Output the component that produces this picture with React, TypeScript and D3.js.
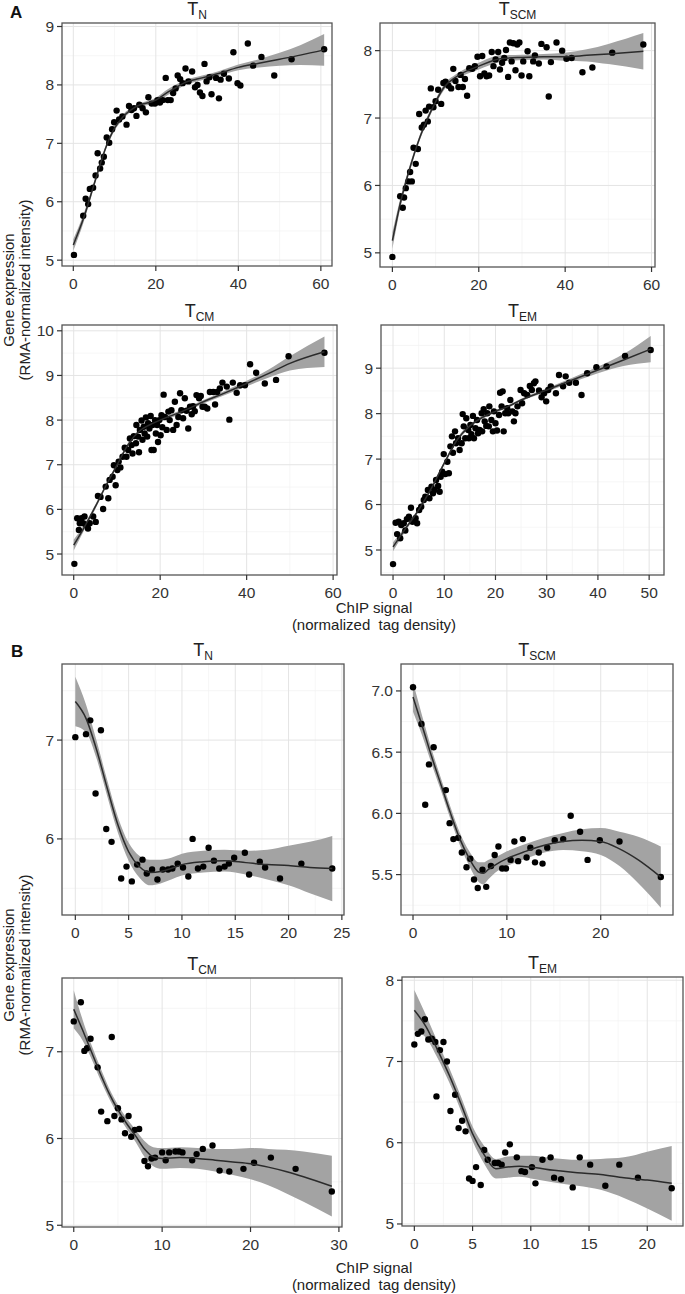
import React from "react";
import * as d3 from "d3";

type Pt = [number, number];
type Sm = [number, number, number]; // x, fit, half-width of band

// ---------- Panel A : T_N ----------
const aTnPoints: Pt[] = [
  [0.16, 5.09], [2.4, 5.76], [3.0, 6.05], [3.6, 5.96], [4.0, 6.22], [4.8, 6.24], [5.4, 6.45], [5.9, 6.83],
  [6.5, 6.57], [6.9, 6.67], [7.4, 6.77], [8.1, 7.1], [8.7, 7.01], [9.4, 7.24], [9.9, 7.36], [10.5, 7.56],
  [11.1, 7.41], [11.9, 7.46], [12.9, 7.32], [13.5, 7.64], [14.1, 7.57], [14.7, 7.6], [15.3, 7.47], [16.0, 7.66],
  [16.8, 7.6], [17.6, 7.53], [18.2, 7.79], [19.0, 7.68], [19.8, 7.68], [20.4, 7.74], [21.0, 7.7], [21.7, 7.74],
  [22.4, 8.12], [22.9, 7.74], [23.6, 7.74], [24.2, 7.86], [24.8, 7.94], [25.3, 8.16], [25.9, 8.1], [26.5, 8.03],
  [27.2, 8.28], [27.9, 8.06], [28.8, 8.23], [29.5, 7.96], [30.1, 8.0], [30.7, 7.87], [31.3, 7.81], [31.8, 8.36],
  [32.3, 8.06], [33.0, 8.13], [33.5, 7.84], [34.6, 8.12], [35.3, 7.77], [35.7, 8.09], [36.5, 8.19], [37.7, 8.11],
  [38.8, 8.56], [39.8, 8.03], [40.5, 7.99], [42.3, 8.71], [43.6, 8.33], [45.6, 8.48], [48.7, 8.16], [52.9, 8.44],
  [60.8, 8.61],
];
const aTnSmooth: Sm[] = [
  [0, 5.26, 0.1], [2.5, 5.72, 0.07], [5, 6.29, 0.05], [8, 6.95, 0.04], [10, 7.26, 0.04], [12, 7.45, 0.04],
  [15, 7.62, 0.03], [20, 7.74, 0.04], [23, 7.88, 0.05], [25, 7.96, 0.05], [27, 8.04, 0.04], [30, 8.1, 0.04],
  [35, 8.19, 0.04], [40, 8.3, 0.05], [45, 8.37, 0.07], [50, 8.44, 0.11], [55, 8.51, 0.17], [60.8, 8.6, 0.27],
];

// ---------- Panel A : T_SCM ----------
const aTscmPoints: Pt[] = [
  [0, 4.94], [1.8, 5.84], [2.4, 5.67], [2.7, 5.82], [3.1, 5.96], [3.7, 6.06], [4.1, 6.2], [4.5, 6.06],
  [4.9, 6.56], [5.4, 6.32], [5.9, 6.54], [6.2, 7.06], [6.8, 6.86], [7.3, 6.9], [7.7, 7.11], [8.2, 6.95],
  [8.5, 7.17], [8.9, 7.44], [9.5, 7.16], [10.0, 7.25], [10.6, 7.42], [11.3, 7.21], [11.8, 7.52], [12.3, 7.54],
  [13.0, 7.48], [13.6, 7.44], [14.1, 7.73], [14.6, 7.55], [15.3, 7.46], [15.8, 7.64], [16.3, 7.46], [16.8, 7.58],
  [17.3, 7.33], [17.8, 7.74], [18.5, 7.73], [19.1, 7.77], [19.7, 7.91], [20.3, 7.62], [20.8, 7.92], [21.3, 7.66],
  [21.8, 7.62], [22.4, 7.63], [23.0, 7.98], [23.4, 7.77], [23.9, 7.87], [24.5, 7.98], [24.9, 7.72], [25.4, 7.82],
  [25.9, 7.89], [26.3, 8.01], [26.8, 7.61], [27.2, 8.12], [27.6, 7.84], [28.0, 8.11], [28.5, 7.71], [28.9, 8.09],
  [29.4, 8.12], [29.9, 7.63], [30.3, 7.84], [31.3, 7.99], [31.7, 7.62], [32.6, 7.84], [33.0, 7.93], [33.9, 7.81],
  [34.5, 8.1], [35.7, 8.05], [36.2, 7.32], [36.7, 7.83], [38.0, 8.12], [39.3, 8.0], [40.3, 7.88], [41.5, 7.89],
  [44.0, 7.68], [46.3, 7.75], [50.9, 7.97], [58.1, 8.09],
];
const aTscmSmooth: Sm[] = [
  [0, 5.18, 0.12], [2, 5.78, 0.07], [4, 6.25, 0.05], [6, 6.65, 0.04], [8, 6.97, 0.04], [10, 7.24, 0.04],
  [12, 7.46, 0.04], [15, 7.62, 0.04], [20, 7.77, 0.05], [25, 7.88, 0.05], [30, 7.9, 0.04], [35, 7.91, 0.04],
  [40, 7.91, 0.06], [45, 7.93, 0.09], [50, 7.95, 0.15], [58.1, 7.99, 0.27],
];

// ---------- Panel A : T_CM ----------
const aTcmPoints: Pt[] = [
  [0.15, 4.78], [0.8, 5.8], [1.2, 5.54], [1.4, 5.69], [1.8, 5.8], [2.2, 5.69], [2.5, 5.84], [2.9, 5.65],
  [3.3, 5.57], [3.7, 5.69], [4.5, 5.84], [5.1, 5.72], [5.6, 6.3], [6.2, 6.28], [6.8, 6.01], [7.4, 6.51],
  [8.0, 6.25], [8.3, 6.66], [9.0, 6.73], [9.3, 6.99], [9.7, 6.54], [10.1, 6.88], [10.4, 7.07], [10.8, 6.94],
  [11.3, 7.18], [11.8, 7.38], [12.2, 7.18], [12.6, 7.33], [13.0, 7.59], [13.4, 7.44], [13.6, 7.25], [13.9, 7.64],
  [14.4, 7.48], [14.5, 7.89], [14.9, 7.63], [15.1, 7.28], [15.3, 7.78], [15.7, 7.99], [15.9, 7.56], [16.2, 7.85],
  [16.4, 7.7], [16.7, 8.06], [17.0, 7.63], [17.2, 7.93], [17.5, 7.81], [17.8, 8.09], [18.0, 7.33], [18.2, 7.89],
  [18.5, 7.33], [18.8, 8.0], [19.0, 7.7], [19.3, 7.89], [19.5, 7.51], [19.8, 8.0], [20.1, 7.66], [20.3, 8.11],
  [20.5, 7.84], [20.8, 8.57], [21.1, 8.07], [21.5, 7.78], [21.9, 8.19], [22.2, 8.0], [22.6, 8.22], [23.0, 7.78],
  [23.4, 8.41], [23.8, 7.89], [24.2, 8.07], [24.6, 8.6], [24.9, 8.22], [25.3, 8.04], [25.7, 8.49], [26.1, 8.21],
  [26.5, 7.81], [26.9, 8.3], [27.3, 8.13], [27.6, 8.31], [28.0, 8.2], [28.4, 8.56], [29.0, 8.49], [29.4, 8.54],
  [29.8, 8.3], [30.3, 8.3], [30.9, 8.26], [31.5, 8.63], [32.3, 8.63], [32.7, 8.35], [33.2, 8.63], [33.8, 8.71],
  [34.4, 8.84], [35.4, 8.75], [36.0, 8.01], [36.8, 8.84], [37.7, 8.61], [38.5, 8.78], [39.6, 8.78], [40.8, 9.25],
  [42.2, 9.06], [44.2, 8.82], [46.8, 8.9], [49.7, 9.43], [58.0, 9.51],
];
const aTcmSmooth: Sm[] = [
  [0, 5.2, 0.12], [2.5, 5.61, 0.06], [5, 6.06, 0.05], [7.5, 6.54, 0.04], [10, 6.99, 0.04], [12.5, 7.44, 0.04],
  [15, 7.74, 0.04], [17.5, 7.89, 0.04], [20, 8.0, 0.04], [25, 8.19, 0.04], [30, 8.41, 0.04], [35, 8.61, 0.05],
  [40, 8.82, 0.06], [45, 9.04, 0.09], [50, 9.27, 0.16], [58, 9.53, 0.34],
];

// ---------- Panel A : T_EM ----------
const aTemPoints: Pt[] = [
  [0, 4.69], [0.5, 5.6], [0.8, 5.35], [1.1, 5.62], [1.4, 5.26], [1.6, 5.55], [2.1, 5.59], [2.4, 5.43],
  [2.7, 5.68], [3.1, 5.73], [3.5, 5.93], [3.8, 5.62], [4.4, 5.7], [4.7, 5.59], [5.1, 5.88], [5.5, 5.95],
  [6.0, 6.1], [6.3, 6.17], [6.8, 6.32], [7.1, 6.14], [7.5, 6.39], [7.8, 6.25], [8.1, 6.32], [8.4, 6.54],
  [8.8, 6.41], [9.1, 6.28], [9.3, 6.61], [9.6, 6.72], [9.9, 7.11], [10.2, 6.67], [10.6, 6.94], [10.9, 6.69],
  [11.2, 7.28], [11.5, 7.5], [11.7, 7.14], [12.1, 7.61], [12.3, 7.35], [12.7, 7.46], [13.0, 7.2], [13.4, 7.35],
  [13.6, 7.99], [13.8, 7.72], [14.1, 7.46], [14.3, 7.9], [14.7, 7.64], [14.8, 7.46], [15.1, 7.75], [15.3, 7.55],
  [15.6, 7.95], [15.8, 7.46], [16.1, 7.68], [16.4, 7.86], [16.6, 7.57], [16.9, 7.64], [17.3, 8.01], [17.4, 7.61],
  [17.7, 8.1], [17.9, 7.83], [18.2, 7.73], [18.4, 8.01], [18.7, 7.72], [18.8, 8.16], [19.2, 7.86], [19.5, 7.61],
  [19.7, 8.05], [20.0, 7.79], [20.3, 7.63], [20.7, 7.97], [20.9, 8.46], [21.2, 8.16], [21.4, 8.49], [21.6, 7.61],
  [21.9, 8.01], [22.3, 8.12], [22.5, 8.01], [22.9, 8.3], [23.3, 8.05], [23.6, 7.83], [23.9, 8.01], [24.3, 8.16],
  [24.9, 8.52], [25.2, 8.23], [25.6, 8.45], [26.2, 8.41], [26.7, 8.61], [27.1, 8.52], [27.5, 8.67], [27.8, 8.71],
  [28.5, 8.51], [29.0, 8.36], [29.5, 8.45], [29.9, 8.27], [30.3, 8.52], [30.8, 8.6], [31.8, 8.45], [32.4, 8.85],
  [33.2, 8.6], [33.7, 8.82], [34.4, 8.68], [35.7, 8.68], [36.8, 8.41], [37.9, 8.89], [39.7, 9.02], [41.7, 9.04],
  [45.3, 9.27], [50.3, 9.4],
];
const aTemSmooth: Sm[] = [
  [0, 5.07, 0.1], [2.5, 5.48, 0.05], [5, 5.88, 0.04], [7.5, 6.36, 0.04], [10, 6.91, 0.04], [12.5, 7.42, 0.04],
  [15, 7.73, 0.04], [17.5, 7.92, 0.03], [20, 8.05, 0.03], [22.5, 8.16, 0.03], [25, 8.3, 0.03], [30, 8.52, 0.04],
  [35, 8.74, 0.05], [40, 8.96, 0.07], [45, 9.18, 0.13], [50.3, 9.42, 0.29],
];

// ---------- Panel B : T_N ----------
const bTnPoints: Pt[] = [
  [0, 7.03], [1.0, 7.06], [1.4, 7.2], [2.4, 7.1], [1.9, 6.46], [2.9, 6.1], [3.4, 5.97], [4.3, 5.6],
  [4.8, 5.72], [5.3, 5.57], [5.8, 5.74], [6.3, 5.79], [6.7, 5.65], [7.2, 5.69], [7.7, 5.59], [8.2, 5.69],
  [8.7, 5.69], [9.1, 5.7], [9.6, 5.75], [10.1, 5.71], [10.6, 5.62], [11.0, 6.0], [11.5, 5.7], [12.0, 5.72],
  [12.5, 5.91], [13.0, 5.78], [13.5, 5.7], [14.0, 5.72], [14.4, 5.75], [14.9, 5.81], [15.9, 5.86], [16.3, 5.64],
  [17.3, 5.77], [17.8, 5.71], [19.2, 5.6], [21.2, 5.75], [24.1, 5.7],
];
const bTnSmooth: Sm[] = [
  [0, 7.39, 0.25], [1, 7.22, 0.14], [2, 6.9, 0.09], [3, 6.51, 0.08], [4, 6.14, 0.08], [5, 5.87, 0.09],
  [6, 5.72, 0.11], [7, 5.66, 0.13], [8, 5.67, 0.12], [9, 5.7, 0.11], [10, 5.74, 0.11], [12, 5.77, 0.11],
  [14, 5.78, 0.11], [16, 5.76, 0.12], [18, 5.74, 0.15], [20, 5.73, 0.2], [22, 5.71, 0.26], [24.1, 5.7, 0.33],
];

// ---------- Panel B : T_SCM ----------
const bTscmPoints: Pt[] = [
  [0, 7.03], [0.9, 6.73], [1.3, 6.07], [1.7, 6.4], [2.2, 6.54], [3.5, 6.19], [3.9, 5.92], [4.3, 5.79],
  [4.8, 5.8], [5.2, 5.68], [5.7, 5.56], [6.1, 5.63], [6.5, 5.46], [6.9, 5.39], [7.4, 5.54], [7.8, 5.4],
  [8.3, 5.57], [8.7, 5.66], [9.1, 5.73], [9.5, 5.55], [9.9, 5.55], [10.4, 5.62], [10.8, 5.77], [11.2, 5.61],
  [11.7, 5.79], [12.1, 5.64], [12.5, 5.72], [13.0, 5.6], [13.4, 5.68], [13.8, 5.59], [14.3, 5.72], [15.1, 5.78],
  [16.0, 5.79], [16.8, 5.98], [17.8, 5.85], [18.6, 5.62], [19.9, 5.78], [22.0, 5.77], [26.4, 5.48],
];
const bTscmSmooth: Sm[] = [
  [0, 6.95, 0.12], [1, 6.71, 0.08], [2, 6.46, 0.06], [3, 6.23, 0.05], [4, 6.0, 0.05], [5, 5.79, 0.05],
  [6, 5.63, 0.06], [7, 5.52, 0.08], [7.5, 5.51, 0.09], [8, 5.54, 0.08], [9, 5.59, 0.06], [10, 5.63, 0.06],
  [12, 5.69, 0.06], [14, 5.74, 0.06], [16, 5.77, 0.07], [18, 5.78, 0.09], [20, 5.77, 0.11], [22, 5.71, 0.14],
  [24, 5.62, 0.19], [26.4, 5.48, 0.25],
];

// ---------- Panel B : T_CM ----------
const bTcmPoints: Pt[] = [
  [0, 7.35], [0.8, 7.57], [1.2, 7.01], [1.5, 7.04], [1.9, 7.15], [2.7, 6.82], [3.1, 6.31], [3.8, 6.2],
  [4.3, 7.17], [4.6, 6.26], [5.0, 6.35], [5.4, 6.22], [5.8, 6.06], [6.2, 6.26], [6.5, 6.02], [6.9, 6.1],
  [7.4, 6.11], [8.0, 5.74], [8.4, 5.68], [8.8, 5.77], [9.2, 5.78], [10.0, 5.84], [10.4, 5.75], [10.8, 5.84],
  [11.5, 5.85], [11.9, 5.85], [12.3, 5.84], [13.4, 5.75], [13.9, 5.82], [14.6, 5.88], [15.7, 5.92], [16.5, 5.63],
  [17.6, 5.62], [19.2, 5.65], [20.4, 5.72], [22.3, 5.78], [25.1, 5.65], [29.2, 5.39],
];
const bTcmSmooth: Sm[] = [
  [0, 7.49, 0.22], [1, 7.25, 0.12], [2, 7.0, 0.08], [3, 6.75, 0.07], [4, 6.52, 0.06], [5, 6.33, 0.06],
  [6, 6.17, 0.06], [7, 6.03, 0.07], [8, 5.88, 0.09], [9, 5.79, 0.11], [10, 5.77, 0.12], [12, 5.78, 0.12],
  [14, 5.77, 0.12], [16, 5.75, 0.13], [18, 5.73, 0.15], [20, 5.71, 0.18], [22, 5.67, 0.21], [24, 5.62, 0.25],
  [26, 5.56, 0.29], [29.2, 5.45, 0.35],
];

// ---------- Panel B : T_EM ----------
const bTemPoints: Pt[] = [
  [0, 7.21], [0.3, 7.34], [0.6, 7.37], [0.9, 7.52], [1.2, 7.27], [1.5, 7.28], [1.8, 7.24], [1.9, 6.57],
  [2.2, 7.14], [2.5, 7.24], [2.8, 7.0], [3.1, 6.39], [3.5, 6.59], [3.8, 6.18], [4.1, 6.27], [4.4, 6.14],
  [4.7, 5.56], [5.0, 5.53], [5.3, 5.7], [5.7, 5.48], [6.0, 5.91], [6.3, 5.79], [6.9, 5.75], [7.2, 5.75],
  [7.5, 5.73], [7.8, 5.88], [8.2, 5.98], [8.8, 5.82], [9.2, 5.65], [9.5, 5.64], [10.1, 5.7], [10.4, 5.5],
  [11.0, 5.79], [11.7, 5.82], [12.0, 5.57], [12.6, 5.55], [13.6, 5.45], [14.2, 5.82], [15.1, 5.73], [16.4, 5.47],
  [17.6, 5.73], [19.2, 5.57], [22.1, 5.44],
];
const bTemSmooth: Sm[] = [
  [0, 7.63, 0.25], [1, 7.43, 0.14], [2, 7.14, 0.1], [3, 6.83, 0.09], [4, 6.48, 0.09], [5, 6.11, 0.09],
  [6, 5.85, 0.11], [7, 5.68, 0.12], [8, 5.7, 0.13], [9, 5.71, 0.13], [10, 5.7, 0.14], [12, 5.66, 0.15],
  [14, 5.63, 0.16], [16, 5.61, 0.19], [18, 5.57, 0.25], [20, 5.54, 0.35], [22.1, 5.5, 0.46],
];

// ---------- tick values ----------
const aTnXTicks = [0, 20, 40, 60];
const aTnYTicks = [5, 6, 7, 8, 9];
const aTscmXTicks = [0, 20, 40, 60];
const aTscmYTicks = [5, 6, 7, 8];
const aTcmXTicks = [0, 20, 40, 60];
const aTcmYTicks = [5, 6, 7, 8, 9, 10];
const aTemXTicks = [0, 10, 20, 30, 40, 50];
const aTemYTicks = [5, 6, 7, 8, 9];
const bTnXTicks = [0, 5, 10, 15, 20, 25];
const bTnYTicks = [6, 7];
const bTscmXTicks = [0, 10, 20];
const bTscmYTicks = [5.5, 6.0, 6.5, 7.0];
const bTcmXTicks = [0, 10, 20, 30];
const bTcmYTicks = [5, 6, 7];
const bTemXTicks = [0, 5, 10, 15, 20];
const bTemYTicks = [5, 6, 7, 8];

type Panel = {
  sub: string;
  points: Pt[];
  smooth: Sm[];
  box: [number, number, number, number];
  xDomain: [number, number];
  yDomain: [number, number];
  xTicks: number[];
  yTicks: number[];
  yFmt?: string;
};

const panels: Panel[] = [
  { sub: "N", points: aTnPoints, smooth: aTnSmooth, box: [62, 23, 332, 266], xDomain: [-2.74, 62.7], yDomain: [4.9, 9.06], xTicks: aTnXTicks, yTicks: aTnYTicks },
  { sub: "SCM", points: aTscmPoints, smooth: aTscmSmooth, box: [380, 23, 655, 267], xDomain: [-2.87, 60.8], yDomain: [4.79, 8.41], xTicks: aTscmXTicks, yTicks: aTscmYTicks },
  { sub: "CM", points: aTcmPoints, smooth: aTcmSmooth, box: [62, 325, 337, 575], xDomain: [-2.71, 60.9], yDomain: [4.53, 10.13], xTicks: aTcmXTicks, yTicks: aTcmYTicks },
  { sub: "EM", points: aTemPoints, smooth: aTemSmooth, box: [381, 325, 664, 575], xDomain: [-2.35, 52.9], yDomain: [4.45, 9.95], xTicks: aTemXTicks, yTicks: aTemYTicks },
  { sub: "N", points: bTnPoints, smooth: bTnSmooth, box: [62, 664, 344, 915], xDomain: [-1.25, 25.2], yDomain: [5.23, 7.77], xTicks: bTnXTicks, yTicks: bTnYTicks },
  { sub: "SCM", points: bTscmPoints, smooth: bTscmSmooth, box: [401, 664, 673, 915], xDomain: [-1.28, 27.7], yDomain: [5.17, 7.22], xTicks: bTscmXTicks, yTicks: bTscmYTicks, yFmt: ".1f" },
  { sub: "CM", points: bTcmPoints, smooth: bTcmSmooth, box: [62, 978, 342, 1227], xDomain: [-1.33, 30.35], yDomain: [4.98, 7.85], xTicks: bTcmXTicks, yTicks: bTcmYTicks },
  { sub: "EM", points: bTemPoints, smooth: bTemSmooth, box: [402, 977, 683, 1226], xDomain: [-1.06, 23.07], yDomain: [4.975, 8.04], xTicks: bTemXTicks, yTicks: bTemYTicks },
];

const FONT = "'Liberation Sans', Arial, Helvetica, sans-serif";
const TICK_COL = "#333";

function minorOf(ticks: number[], domain: [number, number]) {
  const step = ticks[1] - ticks[0];
  const res: number[] = [];
  const all = [ticks[0] - step, ...ticks, ticks[ticks.length - 1] + step];
  for (let i = 0; i < all.length - 1; i++) {
    const m = (all[i] + all[i + 1]) / 2;
    if (m > domain[0] && m < domain[1]) res.push(m);
  }
  return res;
}

function PanelView({ p, idx }: { p: Panel; idx: number }) {
  const [l, t, r, b] = p.box;
  const x = d3.scaleLinear().domain(p.xDomain).range([l, r]);
  const y = d3.scaleLinear().domain(p.yDomain).range([b, t]);
  const area = d3
    .area<Sm>()
    .x((d) => x(d[0]))
    .y0((d) => y(d[1] - d[2]))
    .y1((d) => y(d[1] + d[2]))
    .curve(d3.curveMonotoneX);
  const line = d3
    .line<Sm>()
    .x((d) => x(d[0]))
    .y((d) => y(d[1]))
    .curve(d3.curveMonotoneX);
  const fmt = p.yFmt ? d3.format(p.yFmt) : (v: number) => String(v);
  const xMinor = minorOf(p.xTicks, p.xDomain);
  const yMinor = minorOf(p.yTicks, p.yDomain);
  const cx = (l + r) / 2;
  const clipId = `clip${idx}`;
  return (
    <g>
      <defs>
        <clipPath id={clipId}>
          <rect x={l} y={t} width={r - l} height={b - t} />
        </clipPath>
      </defs>
      <rect x={l} y={t} width={r - l} height={b - t} fill="#fff" />
      {xMinor.map((v) => (
        <line key={"xm" + v} x1={x(v)} x2={x(v)} y1={t} y2={b} stroke="#f2f2f2" strokeWidth={0.7} />
      ))}
      {yMinor.map((v) => (
        <line key={"ym" + v} x1={l} x2={r} y1={y(v)} y2={y(v)} stroke="#f2f2f2" strokeWidth={0.7} />
      ))}
      {p.xTicks.map((v) => (
        <line key={"xg" + v} x1={x(v)} x2={x(v)} y1={t} y2={b} stroke="#e4e4e4" strokeWidth={1} />
      ))}
      {p.yTicks.map((v) => (
        <line key={"yg" + v} x1={l} x2={r} y1={y(v)} y2={y(v)} stroke="#e4e4e4" strokeWidth={1} />
      ))}
      <g clipPath={`url(#${clipId})`}>
        <path d={area(p.smooth) || ""} fill="#a3a3a3" />
        {p.points.map((d, i) => (
          <circle key={i} cx={x(d[0])} cy={y(d[1])} r={3.2} fill="#000" />
        ))}
        <path d={line(p.smooth) || ""} fill="none" stroke="#2b2b2b" strokeWidth={1.5} />
      </g>
      <rect x={l} y={t} width={r - l} height={b - t} fill="none" stroke="#555" strokeWidth={1.3} />
      {p.xTicks.map((v) => (
        <g key={"xt" + v}>
          <line x1={x(v)} x2={x(v)} y1={b} y2={b + 5} stroke={TICK_COL} strokeWidth={1.2} />
          <text x={x(v)} y={b + 23} textAnchor="middle" fontSize={15.5} fill={TICK_COL} fontFamily={FONT}>
            {v}
          </text>
        </g>
      ))}
      {p.yTicks.map((v) => (
        <g key={"yt" + v}>
          <line x1={l - 5} x2={l} y1={y(v)} y2={y(v)} stroke={TICK_COL} strokeWidth={1.2} />
          <text x={l - 8} y={y(v) + 5.5} textAnchor="end" fontSize={15.5} fill={TICK_COL} fontFamily={FONT}>
            {fmt(v)}
          </text>
        </g>
      ))}
      <text x={cx} y={t - 8} textAnchor="middle" fontSize={18} fill="#222" fontFamily={FONT}>
        T
        <tspan fontSize={12} dy={4}>
          {p.sub}
        </tspan>
      </text>
    </g>
  );
}

export default function App() {
  return (
    <svg
      width={685}
      height={1294}
      style={{ position: "absolute", left: 0, top: 0, background: "#fff" }}
      fontFamily={FONT}
    >
      <rect x={0} y={0} width={685} height={1294} fill="#fff" />
      {panels.map((p, i) => (
        <PanelView key={i} p={p} idx={i} />
      ))}
      <text x={10} y={18} fontSize={17} fontWeight="bold" fill="#111">A</text>
      <text x={11} y={657} fontSize={17} fontWeight="bold" fill="#111">B</text>
      {[290, 965].map((cy) => (
        <g key={"yl" + cy}>
          <text transform={`translate(14,${cy}) rotate(-90)`} textAnchor="middle" fontSize={15} fill="#222">
            Gene expression
          </text>
          <text transform={`translate(30,${cy}) rotate(-90)`} textAnchor="middle" fontSize={15} fill="#222">
            (RMA-normalized intensity)
          </text>
        </g>
      ))}
      {[613, 1273].map((by) => (
        <g key={"xl" + by}>
          <text x={374} y={by} textAnchor="middle" fontSize={15} fill="#222">
            ChIP signal
          </text>
          <text x={374} y={by + 17} textAnchor="middle" fontSize={15} fill="#222" style={{ whiteSpace: "pre" }}>
            {"(normalized  tag density)"}
          </text>
        </g>
      ))}
    </svg>
  );
}
